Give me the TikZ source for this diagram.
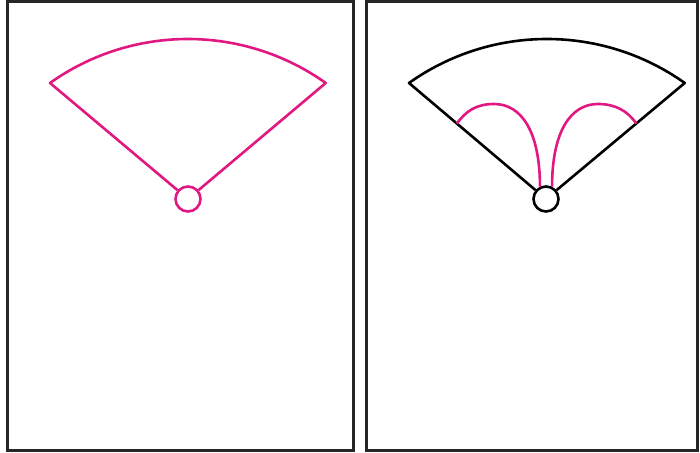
\documentclass[tikz,border=0pt]{standalone}
\usetikzlibrary{calc}
\definecolor{fanpink}{RGB}{226,24,130}
\begin{document}
\begin{tikzpicture}[x=1pt,y=1pt,
  frame/.style={draw=black!85, line width=3pt},
  hub/.style={circle, draw, line width=2.6pt, minimum size=25pt, inner sep=0pt},
  fanline/.style={line width=2.6pt, line join=round}]
\useasboundingbox (0,0) rectangle (700,452);
\draw[frame] (7,2) rectangle (353,450);
\draw[frame] (366,2) rectangle (697,450);
% left panel
\node[hub, draw=fanpink] (hubL) at (188,253) {};
\coordinate (aL) at (50,369);
\coordinate (bL) at (326,369);
\draw[fanline, fanpink] (hubL) -- (aL) arc[start angle=125.4, end angle=54.6, radius=238] -- (hubL);
% right panel
\node[hub, draw=black] (hubR) at (546,253) {};
\coordinate (aR) at (409,369);
\coordinate (bR) at (685,369);
\draw[fanline, black] (hubR) -- (aR) arc[start angle=125.4, end angle=54.6, radius=238] -- (hubR);
\coordinate (la) at ($(hubR)!0.65!(aR)$);
\coordinate (ra) at ($(hubR)!0.65!(bR)$);
\coordinate (lt) at (494,348);
\coordinate (rt) at (598,348);
\draw[fanline, fanpink] (la) .. controls +(9,13) and +(-17,0) .. (lt)
  .. controls +(28,0) and +(0,54) .. (hubR.116);
\draw[fanline, fanpink] (ra) .. controls +(-9,13) and +(17,0) .. (rt)
  .. controls +(-28,0) and +(0,54) .. (hubR.64);
\end{tikzpicture}
\end{document}
